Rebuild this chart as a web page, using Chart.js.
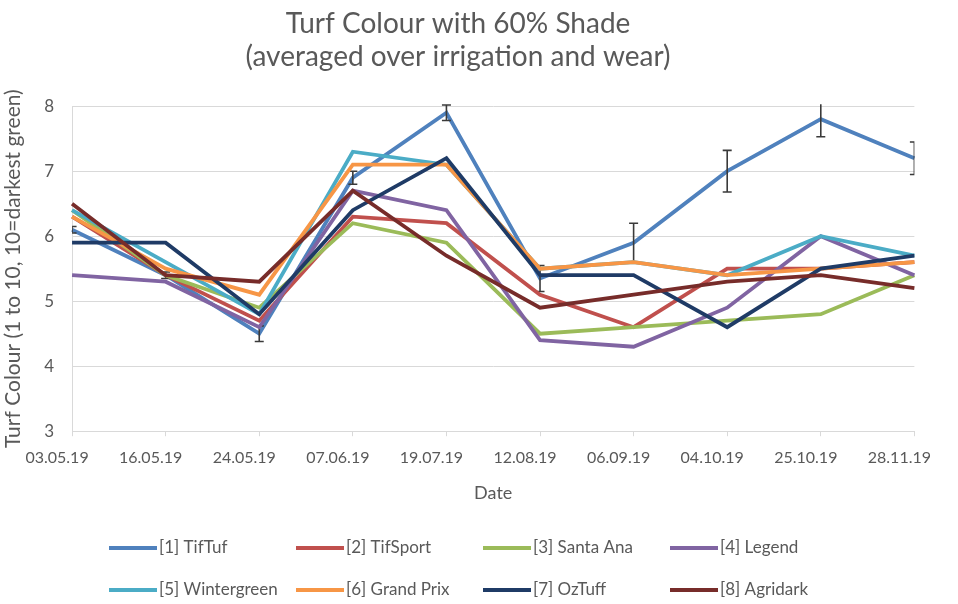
<!DOCTYPE html>
<html>
<head>
<meta charset="utf-8">
<script src="https://cdn.jsdelivr.net/npm/chart.js@4/dist/chart.umd.min.js"></script>
<style>
  html, body { margin: 0; padding: 0; background: #ffffff; }
  #wrap { width: 958px; height: 604px; position: relative; }
</style>
</head>
<body>
<div id="wrap"><canvas id="c"></canvas></div>
<script>
const dates = ["03.05.19","16.05.19","24.05.19","07.06.19","19.07.19","12.08.19","06.09.19","04.10.19","25.10.19","28.11.19"];
const seriesNames = ["[1] TifTuf","[2] TifSport","[3] Santa Ana","[4] Legend","[5] Wintergreen","[6] Grand Prix","[7] OzTuff","[8] Agridark"];
const tifTuf      = [6.1, 5.4, 4.5, 6.9, 7.9, 5.35, 5.9, 7.0, 7.8, 7.2];
const tifSport    = [6.3, 5.4, 4.7, 6.3, 6.2, 5.1, 4.6, 5.5, 5.5, 5.6];
const santaAna    = [6.4, 5.4, 4.9, 6.2, 5.9, 4.5, 4.6, 4.7, 4.8, 5.4];
const legend      = [5.4, 5.3, 4.6, 6.7, 6.4, 4.4, 4.3, 4.9, 6.0, 5.4];
const wintergreen = [6.4, 5.6, 4.8, 7.3, 7.1, 5.5, 5.6, 5.4, 6.0, 5.7];
const grandPrix   = [6.3, 5.5, 5.1, 7.1, 7.1, 5.5, 5.6, 5.4, 5.5, 5.6];
const ozTuff      = [5.9, 5.9, 4.8, 6.4, 7.2, 5.4, 5.4, 4.6, 5.5, 5.7];
const agridark    = [6.5, 5.4, 5.3, 6.7, 5.7, 4.9, 5.1, 5.3, 5.4, 5.2];
const tifTufError = [0.05, 0.05, 0.12, 0.1, 0.12, 0.2, 0.3, 0.32, 0.27, 0.25];
const yTicks = [3, 4, 5, 6, 7, 8];

const seriesValues = [tifTuf, tifSport, santaAna, legend, wintergreen, grandPrix, ozTuff, agridark];
const seriesColors = ["#4F81BD","#C0504D","#9BBB59","#8064A2","#4BACC6","#F79646","#1F3B66","#772C2A"];

const FONT = "Lato, 'Open Sans', sans-serif";
const TEXT = "#595959";

const errorBarPlugin = {
  id: 'errorBars',
  afterDatasetDraw(chart, args) {
    if (args.index !== 0) return;
    const meta = chart.getDatasetMeta(0);
    const ys = chart.scales.y;
    const ctx = chart.ctx;
    const area = chart.chartArea;
    ctx.save();
    ctx.beginPath();
    ctx.rect(area.left, area.top - 2, area.right - area.left, area.bottom - area.top + 4);
    ctx.clip();
    ctx.strokeStyle = "#3a3a3a";
    ctx.lineWidth = 1.6;
    meta.data.forEach((pt, i) => {
      const v = tifTuf[i], e = tifTufError[i];
      const yTop = ys.getPixelForValue(v + e);
      const yBot = ys.getPixelForValue(v - e);
      const x = pt.x;
      ctx.beginPath();
      ctx.moveTo(x, yTop); ctx.lineTo(x, yBot);
      ctx.moveTo(x - 4.5, yTop); ctx.lineTo(x + 4.5, yTop);
      ctx.moveTo(x - 4.5, yBot); ctx.lineTo(x + 4.5, yBot);
      ctx.stroke();
    });
    ctx.restore();
  }
};

const legendPlugin = {
  id: 'gridLegend',
  afterDraw(chart) {
    const ctx = chart.ctx;
    const colX = [109, 296, 483, 670];
    const rowY = [548, 590];
    ctx.save();
    ctx.font = "17px " + FONT;
    ctx.textBaseline = "middle";
    ctx.textAlign = "left";
    chart.data.datasets.forEach((ds, i) => {
      const x = colX[i % 4], y = rowY[Math.floor(i / 4)];
      ctx.strokeStyle = ds.borderColor;
      ctx.lineWidth = 4;
      ctx.beginPath();
      ctx.moveTo(x, y); ctx.lineTo(x + 48, y);
      ctx.stroke();
      ctx.fillStyle = TEXT;
      ctx.fillText(ds.label, x + 50, y);
    });
    ctx.restore();
  }
};

const datasets = seriesNames.map((name, i) => ({
  label: name,
  data: seriesValues[i],
  borderColor: seriesColors[i],
  backgroundColor: seriesColors[i],
  borderWidth: 3.8,
  pointRadius: 0,
  pointHoverRadius: 0,
  tension: 0,
  fill: false,
  order: seriesNames.length - 1 - i
}));

new Chart(document.getElementById('c'), {
  type: 'line',
  data: { labels: dates, datasets },
  plugins: [errorBarPlugin, legendPlugin],
  options: {
    responsive: true,
    maintainAspectRatio: false,
    animation: false,
    layout: { padding: { left: 1, right: 43, top: 0, bottom: 100 } },
    plugins: {
      legend: { display: false },
      tooltip: { enabled: false },
      title: {
        display: true,
        text: ["Turf Colour with 60% Shade", "(averaged over irrigation and wear)"],
        color: TEXT,
        font: { family: FONT, size: 28, weight: 'normal', lineHeight: 1.2 },
        padding: { top: 7, bottom: 32 }
      }
    },
    scales: {
      x: {
        offset: false,
        grid: { display: true, drawOnChartArea: false, drawTicks: true, tickLength: 5, color: "#d9d9d9" },
        border: { display: true, color: "#d9d9d9", width: 1 },
        ticks: { color: TEXT, font: { family: FONT, size: 16 }, labelOffset: -15, maxRotation: 0, autoSkip: false, padding: 12 },
        title: { display: true, text: "Date", color: TEXT, font: { family: FONT, size: 18 }, padding: { top: 3, bottom: 0 } }
      },
      y: {
        min: 3, max: 8,
        afterBuildTicks(scale) { scale.ticks = yTicks.map(v => ({ value: v })); },
        grid: { color: "#d9d9d9", lineWidth: 1, drawTicks: false },
        border: { display: true, color: "#d9d9d9", width: 1 },
        ticks: { color: TEXT, font: { family: FONT, size: 17 }, padding: 18 },
        title: { display: true, text: "Turf Colour (1 to 10, 10=darkest green)", color: TEXT, font: { family: FONT, size: 21 }, padding: { top: 0, bottom: 0 } }
      }
    }
  }
});
</script>
</body>
</html>
